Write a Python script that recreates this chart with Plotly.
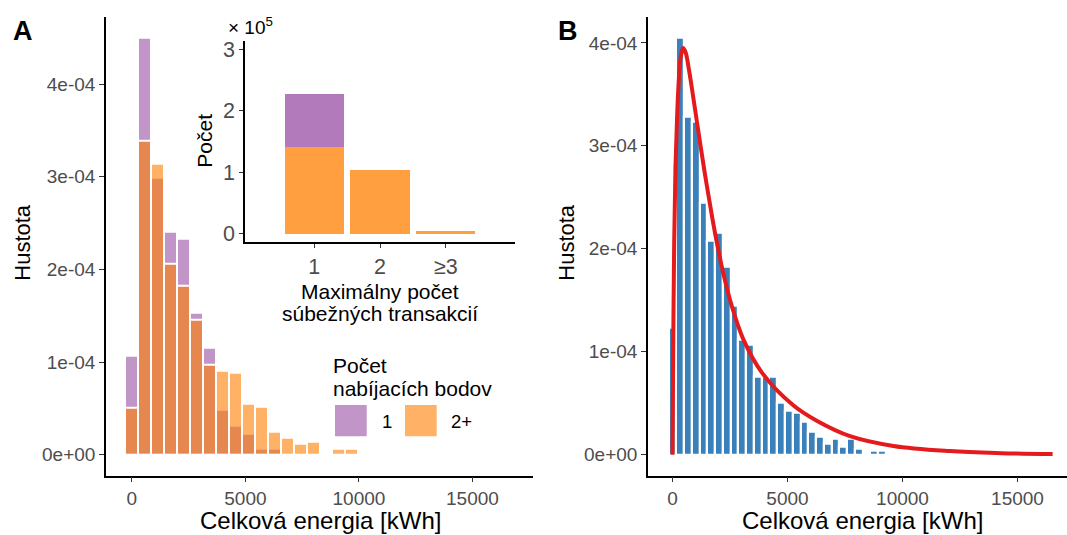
import plotly.graph_objects as go

W, H = 1067, 535

# ---------------- data ----------------
# Panel A: histogram (density) by number of charging points
energy_bins_a = [0, 570, 1140, 1710, 2280, 2850, 3419, 3989, 4559, 5129, 5699, 6269,
                 6839, 7409, 7979, 8549, 9118, 9688, 10258, 10828, 11398, 11968, 12538]
dens_one_point = [1.07e-4, 4.50e-4, 2.99e-4, 2.41e-4, 2.33e-4, 1.53e-4, 1.15e-4, 0.48e-4,
                  0.31e-4, 0.23e-4, 0.06e-4, 0.06e-4, 0.02e-4, 0.0, 0.01e-4, 0, 0, 0, 0, 0, 0, 0, 0]
dens_multi_point = [0.50e-4, 3.39e-4, 3.14e-4, 2.06e-4, 1.82e-4, 1.45e-4, 0.97e-4, 0.90e-4,
                    0.88e-4, 0.55e-4, 0.52e-4, 0.25e-4, 0.18e-4, 0.12e-4, 0.14e-4, 0, 0.06e-4,
                    0.06e-4, 0, 0, 0, 0, 0.01e-4]
binw_a = 570

# Inset: counts by maximum concurrent transactions
concurrency_labels = ["1", "2", "≥3"]
count_multi_point = [1.42e5, 1.04e5, 0.035e5]
count_one_point = [0.86e5, 0, 0]

# Panel B: overall histogram + fitted density
energy_bins_b = [0, 337, 675, 1012, 1349, 1687, 2024, 2361, 2698, 3036, 3373, 3710, 4048, 4385,
                 4722, 5060, 5397, 5734, 6071, 6409, 6746, 7083, 7421, 7758, 8095, 8433, 8770, 9107]
dens_all = [1.23e-4, 4.05e-4, 3.28e-4, 3.23e-4, 2.45e-4, 2.08e-4, 2.15e-4, 1.82e-4, 1.445e-4,
            1.115e-4, 1.07e-4, 0.76e-4, 0.76e-4, 0.76e-4, 0.50e-4, 0.43e-4, 0.41e-4, 0.32e-4,
            0.22e-4, 0.17e-4, 0.105e-4, 0.155e-4, 0.08e-4, 0.15e-4, 0.057e-4, 0.0, 0.035e-4, 0.035e-4]
binw_b = 337
fit_x = [0, 30, 70, 130, 196, 252, 350, 470, 580, 700, 850, 1050, 1400, 1730, 1920, 2200,
         2570, 3080, 3880, 5250, 6270, 7720, 9600, 12065, 14300, 16527]
fit_y = [0, 1.0e-4, 2.0e-4, 2.8e-4, 3.25e-4, 3.55e-4, 3.85e-4, 3.95e-4, 3.90e-4, 3.76e-4,
         3.55e-4, 3.25e-4, 2.74e-4, 2.30e-4, 2.07e-4, 1.77e-4, 1.45e-4, 1.12e-4, 0.80e-4,
         0.48e-4, 0.33e-4, 0.18e-4, 0.085e-4, 0.035e-4, 0.015e-4, 0.006e-4]

x_ticks = [0, 5000, 10000, 15000]
x_ticktext = ["0", "5000", "10000", "15000"]
y_ticks = [0, 1e-4, 2e-4, 3e-4, 4e-4]
y_ticktext = ["0e+00", "1e-04", "2e-04", "3e-04", "4e-04"]
inset_y_ticks = [0, 1e5, 2e5, 3e5]
inset_y_ticktext = ["0", "1", "2", "3"]

# ---------------- styles ----------------
FONT = "Liberation Sans, Arial, sans-serif"
PURPLE_A = "rgba(152,78,163,0.6)"
ORANGE_A = "rgba(255,127,0,0.6)"
PURPLE_I = "rgba(152,78,163,0.75)"
ORANGE_I = "rgba(255,127,0,0.75)"
BLUE = "#3A80BA"
RED = "#E41A1C"
TICKCOL = "#4D4D4D"


def px(x):
    return x / W


def py(y):
    return 1 - y / H


fig = go.Figure()

fig.add_bar(x=energy_bins_a, y=dens_one_point, width=binw_a, xaxis="x", yaxis="y",
            marker=dict(color=PURPLE_A, line=dict(color="white", width=2)), showlegend=False)
fig.add_bar(x=energy_bins_a, y=dens_multi_point, width=binw_a, xaxis="x", yaxis="y",
            marker=dict(color=ORANGE_A, line=dict(color="white", width=2)), showlegend=False)

fig.add_bar(x=[0, 1, 2], y=count_multi_point, width=0.9, xaxis="x3", yaxis="y3",
            marker=dict(color=ORANGE_I, line=dict(width=0)), showlegend=False)
fig.add_bar(x=[0, 1, 2], y=count_one_point, base=count_multi_point, width=0.9, xaxis="x3", yaxis="y3",
            marker=dict(color=PURPLE_I, line=dict(width=0)), showlegend=False)

fig.add_bar(x=energy_bins_b, y=dens_all, width=binw_b, xaxis="x2", yaxis="y2",
            marker=dict(color=BLUE, line=dict(color="white", width=2.2)), showlegend=False)
fig.add_scatter(x=fit_x, y=fit_y, mode="lines", xaxis="x2", yaxis="y2",
                line=dict(color=RED, width=4, shape="spline", smoothing=1.0), showlegend=False)

axis_common = dict(showline=True, linecolor="black", linewidth=1.6, ticks="outside",
                   ticklen=5, tickwidth=1.3, tickcolor="#333333", showgrid=False,
                   zeroline=False, tickfont=dict(size=19, color=TICKCOL, family=FONT))
inset_font = dict(size=21.5, color=TICKCOL, family=FONT)

ydom = [py(478), py(15)]
fig.update_layout(
    width=W, height=H, margin=dict(l=0, r=0, t=0, b=0),
    paper_bgcolor="white", plot_bgcolor="rgba(0,0,0,0)",
    barmode="overlay", bargap=0, font=dict(family=FONT),
    xaxis=dict(domain=[px(106), px(533)], range=[-1140, 17667], anchor="y",
               tickvals=x_ticks, ticktext=x_ticktext, **axis_common),
    yaxis=dict(domain=ydom, range=[-0.225e-4, 4.725e-4], anchor="x",
               tickvals=y_ticks, ticktext=y_ticktext, **axis_common),
    xaxis2=dict(domain=[px(648), 1.0], range=[-1065, 17152], anchor="y2",
                tickvals=x_ticks, ticktext=x_ticktext, **axis_common),
    yaxis2=dict(domain=ydom, range=[-0.2025e-4, 4.2525e-4], anchor="x2",
                tickvals=y_ticks, ticktext=y_ticktext, **axis_common),
    xaxis3=dict(domain=[px(245), px(515)], range=[-1.05, 3.05], anchor="y3",
                tickvals=[0, 1, 2], ticktext=concurrency_labels,
                **{**axis_common, "tickfont": inset_font, "ticklen": 4}),
    yaxis3=dict(domain=[py(242.7), py(39)], range=[-0.15e5, 3.15e5], anchor="x3",
                tickvals=inset_y_ticks, ticktext=inset_y_ticktext,
                **{**axis_common, "tickfont": inset_font, "ticklen": 4}),
)


def ann(text, x, y, size, xanchor="center", yanchor="middle", angle=0, bold=False, color="black"):
    fig.add_annotation(text=f"<b>{text}</b>" if bold else text, x=px(x), y=py(y),
                       xref="paper", yref="paper", xanchor=xanchor, yanchor=yanchor,
                       textangle=angle, showarrow=False,
                       font=dict(size=size, color=color, family=FONT))


ann("A", 11, 29, 27, xanchor="left", bold=True)
ann("B", 556, 29, 27, xanchor="left", bold=True)
ann("Hustota", 23, 243, 22, angle=-90)
ann("Hustota", 567, 243, 22, angle=-90)
ann("Celková energia [kWh]", 320, 523.5, 24)
ann("Celková energia [kWh]", 862, 523.5, 24)
# inset texts
ann("Počet", 205, 140, 21, angle=-90)
ann("× 10<sup>5</sup>", 226, 24, 19, xanchor="left")
ann("Maximálny počet", 380, 292, 21)
ann("súbežných transakcií", 380, 314, 21)
# legend
ann("Počet", 331, 367, 21, xanchor="left")
ann("nabíjacích bodov", 331, 390, 21, xanchor="left")
ann("1", 380, 423, 18.5, xanchor="left")
ann("2+", 449, 423, 18.5, xanchor="left")
fig.add_shape(type="rect", xref="paper", yref="paper", x0=px(335), x1=px(366.7),
              y0=py(438.3), y1=py(406.7), fillcolor=PURPLE_A, line=dict(width=0))
fig.add_shape(type="rect", xref="paper", yref="paper", x0=px(405), x1=px(436.7),
              y0=py(438.3), y1=py(406.7), fillcolor=ORANGE_A, line=dict(width=0))

fig.write_html("out.html")
